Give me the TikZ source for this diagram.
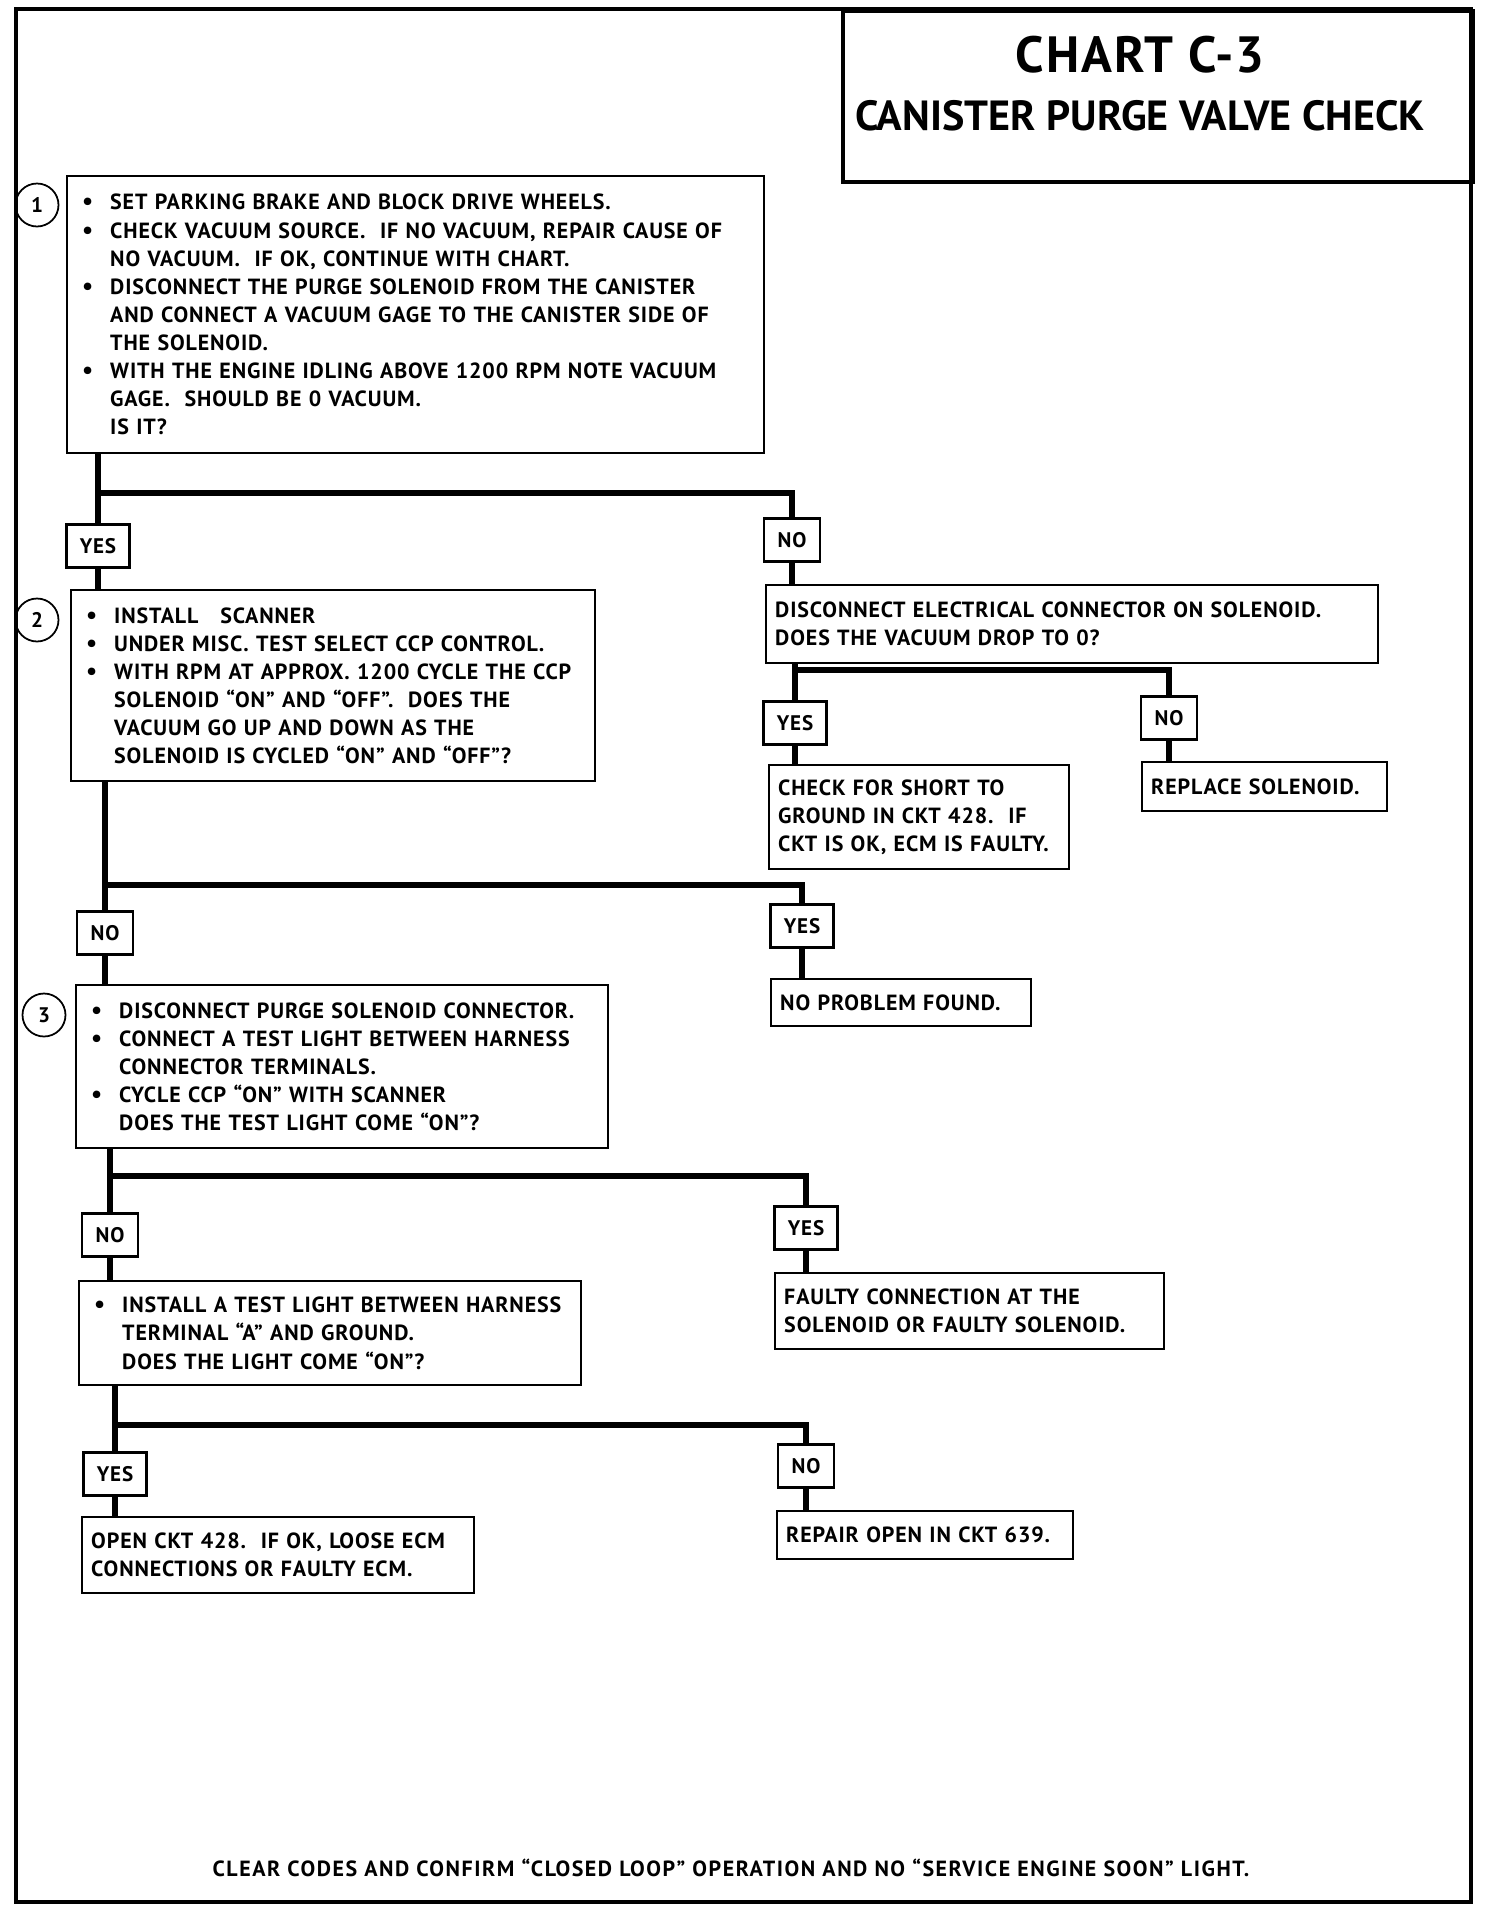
\documentclass[tikz,border=0pt]{standalone}
\usepackage{fontspec}
\setmainfont{PT Sans}
\newfontfamily\chartfont[Ligatures=TeX, LetterSpace=4]{PT Sans}
\newfontfamily\widefont[Ligatures=TeX, LetterSpace=7]{PT Sans}
\usepackage{tikz}
\usetikzlibrary{positioning, calc}
\newcommand{\bulmark}{\hspace*{0.15cm}\makebox[0.56cm][l]{{\fontsize{14}{14}\selectfont\textbullet}}}
\newcommand{\bulgap}{\hspace*{0.71cm}}
\tikzset{
frameline/.style={
line width=2.1pt,
draw=black
},
stepbox/.style={
draw,
line width=1.4pt,
fill=white,
anchor=north west,
align=left,
inner xsep=0.15cm,
inner ysep=0.12cm,
font=\chartfont\bfseries\fontsize{12.5}{16}\selectfont
},
resultbox/.style={
stepbox,
inner xsep=0.18cm
},
answer/.style={
draw,
line width=1.4pt,
fill=white,
minimum height=0.86cm,
inner xsep=0.27cm,
font=\chartfont\bfseries\fontsize{12}{14}\selectfont
},
stepnum/.style={
circle,
draw,
line width=1pt,
minimum size=0.86cm,
inner sep=0pt,
font=\bfseries\fontsize{12}{14}\selectfont
},
link/.style={
line width=3.5pt,
draw=black,
line join=miter
}
}

\begin{document}
\begin{tikzpicture}[x=0.02cm, y=-0.02cm]
\useasboundingbox (0,0) rectangle (1504,1918);
\fill[white] (0,0) rectangle (1504,1918);

% frame and title
\draw[frameline] (16,9) rectangle (1471,1902);
\node[draw, frameline, anchor=north west, minimum width=12.6cm, minimum height=3.42cm] (titlebox) at (841,9) {};
\node[font=\chartfont\bfseries\fontsize{29}{32}\selectfont] (charttitle) at (1140,55) {CHART C-3};
\node[font=\bfseries\fontsize{24}{27}\selectfont] (charttopic) at (1140,116) {CANISTER PURGE VALVE CHECK};

% step 1
\node[stepbox, text width=13.64cm, minimum height=5.54cm] (q1) at (66,175) {
\bulmark SET PARKING BRAKE AND BLOCK DRIVE WHEELS.\\
\bulmark CHECK VACUUM SOURCE.\ \ IF NO VACUUM, REPAIR CAUSE OF\\
\bulgap NO VACUUM.\ \ IF OK, CONTINUE WITH CHART.\\
\bulmark DISCONNECT THE PURGE SOLENOID FROM THE CANISTER\\
\bulgap AND CONNECT A VACUUM GAGE TO THE CANISTER SIDE OF\\
\bulgap THE SOLENOID.\\
\bulmark WITH THE ENGINE IDLING ABOVE 1200 RPM NOTE VACUUM\\
\bulgap GAGE.\ \ SHOULD BE 0 VACUUM.\\
\bulgap IS IT?};
\node[stepnum] (num1) at (37,205) {1};

\node[answer] (yes1) at (98,546) {YES};
\node[answer] (no1) at (792,540) {NO};
\coordinate (b1) at (98,493);

% step 2
\node[stepbox, text width=10.18cm, minimum height=3.82cm] (q2) at (70,589) {
\bulmark INSTALL\ \ \ SCANNER\\
\bulmark UNDER MISC. TEST SELECT CCP CONTROL.\\
\bulmark WITH RPM AT APPROX. 1200 CYCLE THE CCP\\
\bulgap SOLENOID ``ON'' AND ``OFF''.\ \ DOES THE\\
\bulgap VACUUM GO UP AND DOWN AS THE\\
\bulgap SOLENOID IS CYCLED ``ON'' AND ``OFF''?};
\node[stepnum] (num2) at (37,620) {2};

\node[resultbox, text width=11.88cm, minimum height=1.56cm] (n1) at (765,584) {
DISCONNECT ELECTRICAL CONNECTOR ON SOLENOID.\\
DOES THE VACUUM DROP TO 0?};

\node[answer] (yes2) at (795,723) {YES};
\node[answer] (no2) at (1169,718) {NO};
\coordinate (b2) at (795,670);

\node[resultbox, text width=5.64cm, minimum height=2.08cm] (r1) at (768,764) {
CHECK FOR SHORT TO\\
GROUND IN CKT 428.\ \ IF\\
CKT IS OK, ECM IS FAULTY.};
\node[resultbox, text width=4.54cm, minimum height=0.98cm] (r2) at (1141,761) {REPLACE SOLENOID.};

\node[answer] (no3) at (105,933) {NO};
\node[answer] (yes3) at (802,926) {YES};
\coordinate (b3) at (105,885);

\node[resultbox, text width=4.84cm, minimum height=0.94cm] (r3) at (770,978) {NO PROBLEM FOUND.};

% step 3
\node[stepbox, text width=10.34cm, minimum height=3.26cm] (q3) at (75,984) {
\bulmark DISCONNECT PURGE SOLENOID CONNECTOR.\\
\bulmark CONNECT A TEST LIGHT BETWEEN HARNESS\\
\bulgap CONNECTOR TERMINALS.\\
\bulmark CYCLE CCP ``ON'' WITH SCANNER\\
\bulgap DOES THE TEST LIGHT COME ``ON''?};
\node[stepnum] (num3) at (44,1015) {3};

\node[answer] (no4) at (110,1235) {NO};
\node[answer] (yes4) at (806,1228) {YES};
\coordinate (b4) at (110,1176);

\node[stepbox, text width=9.74cm, minimum height=2.08cm] (q4) at (78,1280) {
\bulmark INSTALL A TEST LIGHT BETWEEN HARNESS\\
\bulgap TERMINAL ``A'' AND GROUND.\\
\bulgap DOES THE LIGHT COME ``ON''?};
\node[resultbox, text width=7.42cm, minimum height=1.52cm] (r4) at (774,1272) {
FAULTY CONNECTION AT THE\\
SOLENOID OR FAULTY SOLENOID.};

\node[answer] (yes5) at (115,1474) {YES};
\node[answer] (no5) at (806,1466) {NO};
\coordinate (b5) at (115,1425);

\node[resultbox, text width=7.48cm, minimum height=1.52cm] (r5) at (81,1516) {
OPEN CKT 428.\ \ IF OK, LOOSE ECM\\
CONNECTIONS OR FAULTY ECM.};
\node[resultbox, text width=5.56cm, minimum height=0.96cm] (r6) at (776,1510) {REPAIR OPEN IN CKT 639.};

\node[font=\widefont\bfseries\fontsize{12.5}{15}\selectfont] (closing) at (731,1868) {CLEAR CODES AND CONFIRM ``CLOSED LOOP'' OPERATION AND NO ``SERVICE ENGINE SOON'' LIGHT.};

% connectors
\draw[link] (q1.south -| yes1) -- (yes1);
\draw[link] (b1) -| (no1);
\draw[link] (yes1) -- (yes1 |- q2.north);
\draw[link] (no1) -- (no1 |- n1.north);

\draw[link] (n1.south -| yes2) -- (yes2);
\draw[link] (b2) -| (no2);
\draw[link] (yes2) -- (yes2 |- r1.north);
\draw[link] (no2) -- (no2 |- r2.north);

\draw[link] (q2.south -| no3) -- (no3);
\draw[link] (b3) -| (yes3);
\draw[link] (no3) -- (no3 |- q3.north);
\draw[link] (yes3) -- (yes3 |- r3.north);

\draw[link] (q3.south -| no4) -- (no4);
\draw[link] (b4) -| (yes4);
\draw[link] (no4) -- (no4 |- q4.north);
\draw[link] (yes4) -- (yes4 |- r4.north);

\draw[link] (q4.south -| yes5) -- (yes5);
\draw[link] (b5) -| (no5);
\draw[link] (yes5) -- (yes5 |- r5.north);
\draw[link] (no5) -- (no5 |- r6.north);

\end{tikzpicture}
\end{document}
